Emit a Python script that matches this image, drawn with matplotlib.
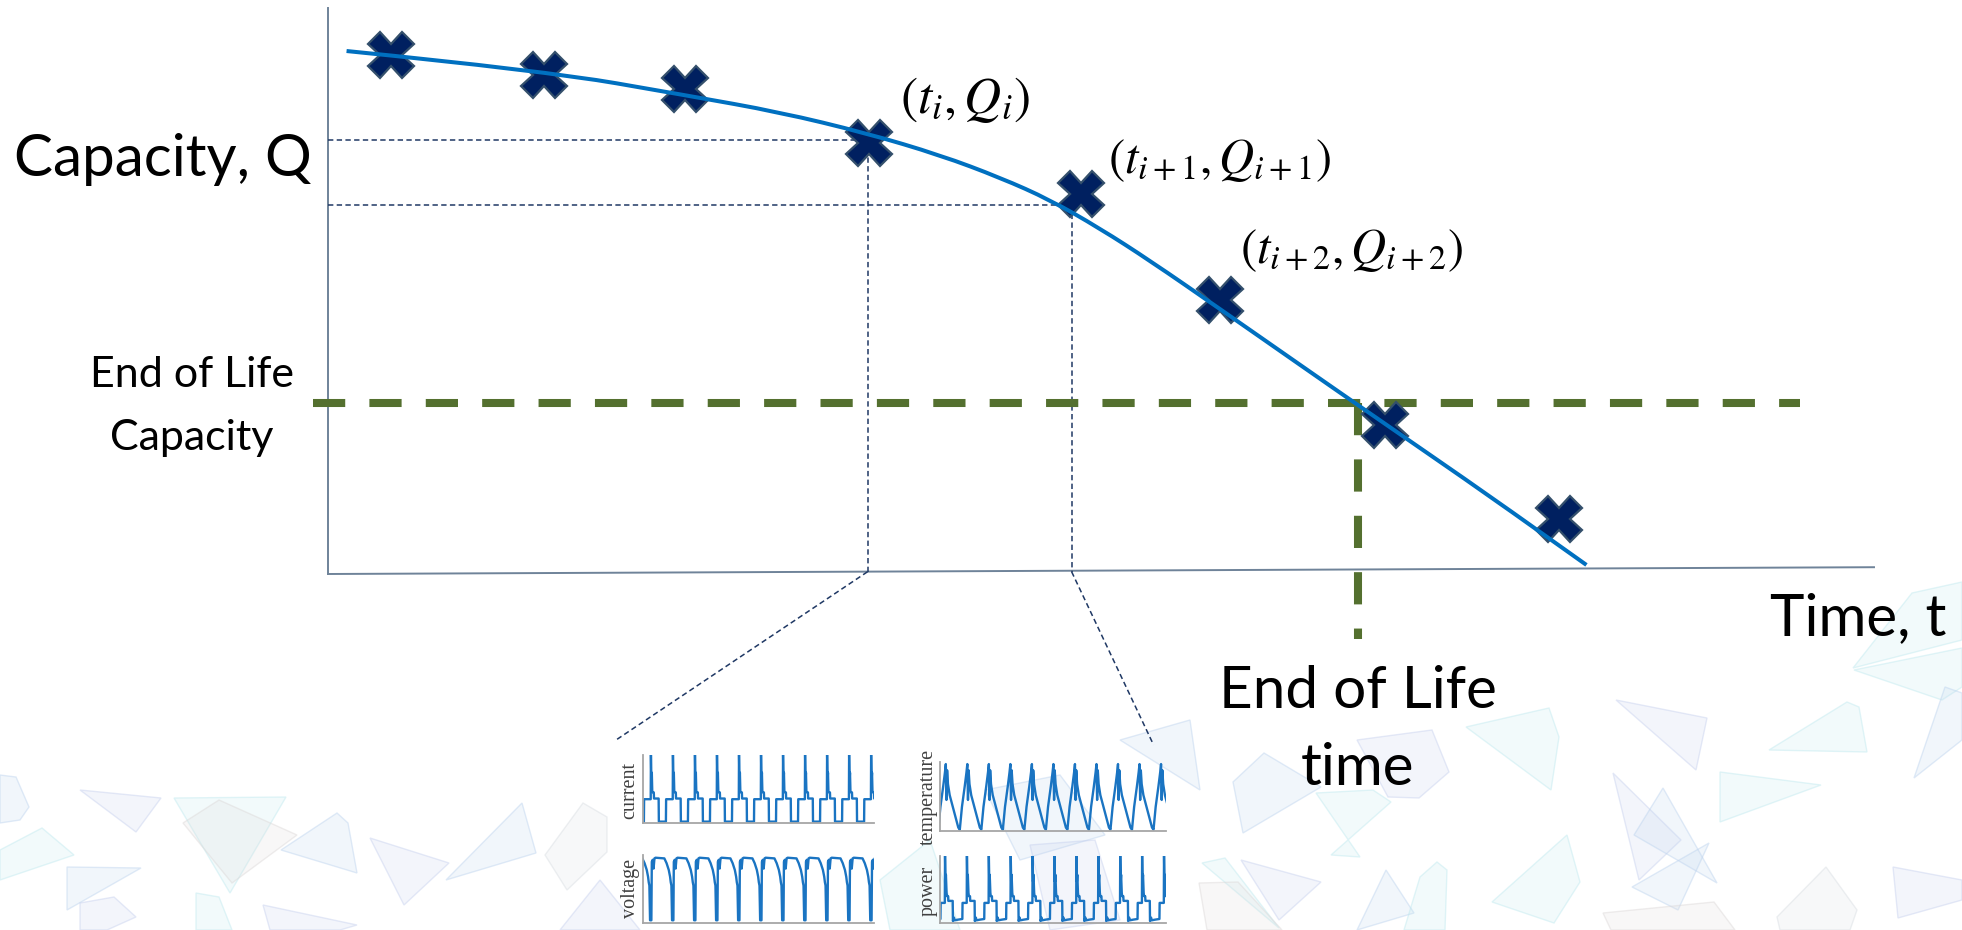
import numpy as np
import matplotlib.pyplot as plt
from matplotlib.patches import Polygon, PathPatch
from matplotlib.path import Path
from matplotlib.colors import to_rgba

W, H = 1962, 930

# measured capacity points (time, capacity), arbitrary units
t_obs = [4.1, 14.0, 23.1, 35.0, 48.7, 57.7, 68.4, 79.6]
q_obs = [91.7, 88.1, 85.7, 76.2, 67.1, 48.4, 26.3, 9.7]

# fitted fade curve
t_fit = [1.2, 14.0, 23.3, 29.2, 34.8, 39.6, 43.5, 46.7, 49.9, 53.2, 57.6, 62.9, 66.8, 71.2, 75.8, 81.4]
q_fit = [92.4, 88.9, 84.5, 81.6, 77.9, 74.0, 70.0, 66.1, 61.1, 55.3, 47.0, 36.9, 29.5, 21.2, 12.5, 1.6]

# end of life threshold
eol_q = 30.2
eol_t = 66.6

# points projected onto the axes, and where their leaders end below the axis
t_proj = [34.9, 48.1]
q_proj = [76.6, 65.2]
t_lead = [18.7, 53.4]
q_lead = [-29.2, -30.2]

point_labels = [r"$(t_i,Q_i)$", r"$(t_{i+1},Q_{i+1})$", r"$(t_{i+2},Q_{i+2})$"]

# one cycle of each logged signal (phase relative to the pulse, normalised level)
cur_phase = [-0.31, -0.30, 0.00, 0.01, 0.03, 0.05, 0.07, 0.10, 0.14, 0.15, 0.36, 0.37, 0.68]
cur_level = [0.02, 0.35, 0.35, 1.00, 0.62, 0.74, 0.47, 0.45, 0.45, 0.36, 0.36, 0.02, 0.02]
vol_phase = [-0.06, -0.03, 0.03, 0.05, 0.09, 0.13, 0.17, 0.22, 0.62, 0.72, 0.82, 0.88, 0.91]
vol_level = [0.55, 0.04, 0.04, 0.90, 0.93, 0.80, 0.95, 0.96, 0.95, 0.88, 0.78, 0.68, 0.60]
tmp_phase = [-0.35, -0.25, -0.12, -0.04, 0.00, 0.03, 0.06, 0.10, 0.18, 0.30, 0.45, 0.58]
tmp_level = [0.02, 0.35, 0.65, 0.85, 0.97, 0.45, 0.88, 0.68, 0.52, 0.38, 0.20, 0.05]
pow_phase = [-0.20, -0.19, 0.00, 0.01, 0.03, 0.05, 0.08, 0.10, 0.15, 0.16, 0.36, 0.37, 0.42, 0.44, 0.60]
pow_level = [0.06, 0.30, 0.30, 1.00, 0.62, 0.72, 0.45, 0.40, 0.40, 0.33, 0.33, 0.03, 0.08, 0.04, 0.05]

# faint background shards, pixel coords
SHAPES = [
    ('#bcd3ee', [(0, 775), (16, 777), (29, 807), (20, 820), (0, 823)]),
    ('#c6d0ee', [(80, 790), (161, 798), (136, 832)]),
    ('#bfe9ef', [(42, 828), (74, 855), (0, 880), (0, 850)]),
    ('#bfe9ef', [(174, 798), (286, 797), (230, 893)]),
    ('#dcd8d8', [(183, 823), (219, 800), (297, 835), (232, 883)]),
    ('#bcd3ee', [(281, 850), (337, 813), (348, 823), (357, 873)]),
    ('#c6d0ee', [(370, 838), (449, 863), (404, 905)]),
    ('#bcd3ee', [(446, 880), (522, 803), (536, 853)]),
    ('#d8dde2', [(545, 855), (583, 803), (607, 817), (607, 852), (567, 890)]),
    ('#bcd3ee', [(67, 867), (141, 868), (67, 910)]),
    ('#c6d0ee', [(80, 903), (114, 897), (136, 917), (107, 930), (80, 930)]),
    ('#bfe9ef', [(196, 893), (219, 897), (232, 930), (196, 930)]),
    ('#c6d0ee', [(263, 905), (357, 925), (340, 930), (270, 930)]),
    ('#bcd3ee', [(1233, 782), (1264, 753), (1321, 787), (1243, 833)]),
    ('#c6d0ee', [(1357, 740), (1432, 730), (1449, 772), (1419, 798), (1388, 797)]),
    ('#bfe9ef', [(1316, 793), (1373, 790), (1391, 802), (1331, 855), (1360, 857)]),
    ('#bfe9ef', [(1466, 727), (1549, 708), (1559, 737), (1551, 790)]),
    ('#c6d0ee', [(1616, 700), (1707, 718), (1696, 770)]),
    ('#bfe9ef', [(1769, 750), (1847, 702), (1859, 707), (1867, 752)]),
    ('#bfe9ef', [(1854, 670), (1962, 648), (1962, 687), (1942, 700)]),
    ('#bcd3ee', [(1914, 778), (1945, 687), (1962, 693), (1962, 740)]),
    ('#bfe9ef', [(1912, 593), (1962, 582), (1962, 640), (1853, 668)]),
    ('#c6d0ee', [(1613, 773), (1681, 840), (1639, 880)]),
    ('#bcd3ee', [(1663, 788), (1717, 883), (1634, 835)]),
    ('#bfe9ef', [(1720, 772), (1821, 785), (1720, 822)]),
    ('#bcd3ee', [(1632, 887), (1709, 843), (1678, 910)]),
    ('#dcd8d8', [(1603, 913), (1714, 902), (1735, 930), (1611, 930)]),
    ('#bfe9ef', [(1492, 902), (1567, 835), (1580, 882), (1554, 923)]),
    ('#d8dde2', [(1777, 917), (1826, 867), (1857, 910), (1850, 930), (1780, 930)]),
    ('#c6d0ee', [(1893, 867), (1962, 880), (1962, 900), (1898, 918)]),
    ('#bfe9ef', [(1202, 863), (1225, 858), (1279, 928)]),
    ('#c6d0ee', [(1241, 860), (1321, 882), (1279, 920)]),
    ('#dcd8d8', [(1199, 883), (1238, 882), (1282, 930), (1207, 930)]),
    ('#bcd3ee', [(1357, 930), (1386, 870), (1414, 913)]),
    ('#bfe9ef', [(1404, 930), (1420, 877), (1437, 862), (1447, 870), (1445, 930)]),
    ('#bcd3ee', [(985, 790), (1060, 775), (1105, 835), (1020, 860)]),
    ('#c6d0ee', [(1030, 845), (1095, 840), (1120, 920), (1050, 930)]),
    ('#bfe9ef', [(880, 880), (930, 840), (960, 930), (890, 930)]),
    ('#bcd3ee', [(1120, 740), (1190, 720), (1200, 790)]),
    ('#c6d0ee', [(560, 930), (600, 880), (640, 930)]),
]

navy = '#1f3864'
green = '#54702f'
axis_col = '#6f8399'
sig_col = '#1a74c2'

plt.rcParams['mathtext.fontset'] = 'stix'
sans = 'Lato'


def fx(x):
    return x / W


def fy(y):
    return 1 - y / H


fig = plt.figure(figsize=(W / 100, H / 100), dpi=100)
fig.patch.set_facecolor('white')

bg = fig.add_axes([0, 0, 1, 1])
bg.set_xlim(0, W)
bg.set_ylim(H, 0)
bg.axis('off')
for col, pts in SHAPES:
    bg.add_patch(Polygon(pts, closed=True, facecolor=to_rgba(col, 0.2),
                         edgecolor=to_rgba(col, 0.45), lw=1.0))

ax = fig.add_axes([fx(328), fy(574), 1546 / W, 566 / H])
ax.set_xlim(0, 100)
ax.set_ylim(0, 100)
ax.axis('off')

# axes drawn by hand, the time axis rises very slightly
ax.plot([0, 0], [0, 100], color=axis_col, lw=1.4, clip_on=False)
ax.plot([0, 100], [0, 1.2], color=axis_col, lw=1.4, clip_on=False)

# projections of two points onto the axes, leaders to the signal plots
for tp, qp, tl, ql in zip(t_proj, q_proj, t_lead, q_lead):
    kw = dict(color=navy, lw=1.1, dashes=(3.5, 2.2), clip_on=False, zorder=2)
    ax.plot([0, tp], [qp, qp], **kw)
    ax.plot([tp, tp], [qp, 0.4], **kw)
    ax.plot([tp, tl], [0.4, ql], **kw)

# end of life lines
ax.plot([-1.0, 95.2], [eol_q, eol_q], color=green, lw=5.8, dashes=(4, 3),
        clip_on=False, zorder=3)
ax.plot([eol_t, eol_t], [eol_q, -11.5], color=green, lw=5.8, dashes=(4, 3),
        clip_on=False, zorder=3)

ax.plot(t_obs, q_obs, ls='none', marker='X', ms=33, mfc='#002060', mec='#34506c',
        mew=1.6, zorder=4, clip_on=False)

# smooth the fitted curve with quadratic segments through the knot midpoints
knots = np.column_stack([t_fit, q_fit])
verts = [knots[0]]
codes = [Path.MOVETO]
for i in range(1, len(knots) - 2):
    verts += [knots[i], (knots[i] + knots[i + 1]) / 2]
    codes += [Path.CURVE3, Path.CURVE3]
verts += [knots[-2], knots[-1]]
codes += [Path.CURVE3, Path.CURVE3]
ax.add_patch(PathPatch(Path(verts, codes), fill=False, edgecolor='#0070c0', lw=2.9,
                       zorder=5, clip_on=False))

# text
fig.text(fx(14), fy(176), "Capacity, Q", family=sans, fontsize=42, va='baseline', ha='left')
fig.text(fx(192), fy(387), "End of Life", family=sans, fontsize=31, va='baseline', ha='center')
fig.text(fx(192), fy(450), "Capacity", family=sans, fontsize=31, va='baseline', ha='center')
fig.text(fx(1770), fy(635), "Time, t", family=sans, fontsize=42, va='baseline', ha='left')
fig.text(fx(1358), fy(708), "End of Life", family=sans, fontsize=42, va='baseline', ha='center')
fig.text(fx(1358), fy(785), "time", family=sans, fontsize=42, va='baseline', ha='center')

for lab, (x, y, fs) in zip(point_labels, [(900, 100, 37), (1108, 160, 35), (1240, 250, 35)]):
    fig.text(fx(x), fy(y), lab, fontsize=fs, va='center', ha='left')


def tile(phase, level, k0, k1):
    t = np.concatenate([k + np.asarray(phase) for k in range(k0, k1)])
    v = np.tile(level, k1 - k0)
    return t, v


def inset(x0, y0, x1, y1, xlim, label, lx, ly):
    a = fig.add_axes([fx(x0), fy(y1), (x1 - x0) / W, (y1 - y0) / H])
    a.set_xlim(*xlim)
    a.set_ylim(0, 1)
    a.set_xticks([])
    a.set_yticks([])
    a.patch.set_alpha(0)
    for s in ('top', 'right'):
        a.spines[s].set_visible(False)
    for s in ('left', 'bottom'):
        a.spines[s].set_color('#a6a6a6')
        a.spines[s].set_linewidth(1.3)
    fig.text(fx(lx), fy(ly), label, rotation=90, ha='center', va='center',
             family='Liberation Serif', fontsize=14.5, color='#404040')
    return a


a = inset(643, 755, 874, 823, (-0.35, 10.14), 'current', 630, 790)
a.plot(*tile(cur_phase, cur_level, -1, 12), color=sig_col, lw=1.7)
a = inset(643, 855, 874, 923, (-0.35, 10.14), 'voltage', 631, 888)
a.plot(*tile(vol_phase, vol_level, -1, 12), color=sig_col, lw=1.7)
a = inset(940, 762, 1166, 831, (-0.27, 10.23), 'temperature', 928, 797)
a.plot(*tile(tmp_phase, tmp_level, -1, 12), color=sig_col, lw=1.7)
a = inset(940, 856, 1166, 923, (-0.22, 10.1), 'power', 928, 891)
a.plot(*tile(pow_phase, pow_level, -1, 12), color=sig_col, lw=1.7)

fig.savefig('out.png', dpi=100, facecolor='white')
